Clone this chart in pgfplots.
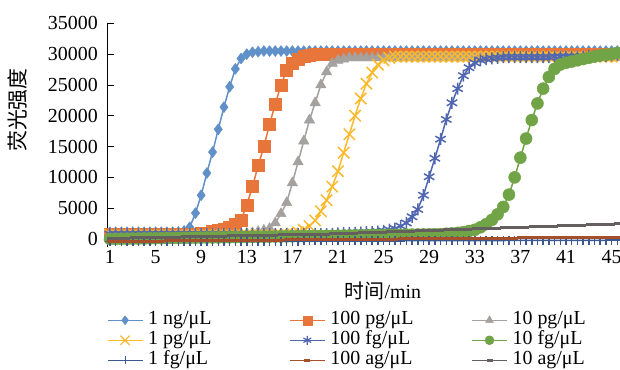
\documentclass[border=0pt]{standalone}
\usepackage{pgfplots}
\pgfplotsset{compat=1.18}
\usepackage{pgfplotstable}
\usepackage{fontspec}
\setmainfont{Liberation Serif}
\newfontfamily\cjk{Noto Sans CJK SC}
\definecolor{c1}{RGB}{96,144,200}
\definecolor{c2}{RGB}{232,117,58}
\definecolor{c3}{RGB}{165,161,159}
\definecolor{c4}{RGB}{250,185,45}
\definecolor{c5}{RGB}{80,102,176}
\definecolor{c6}{RGB}{112,164,70}
\definecolor{c7}{RGB}{60,90,144}
\definecolor{c8}{RGB}{165,80,42}
\definecolor{c9}{RGB}{101,95,95}
\pgfplotstableread{
x a b c d e f g h i
1    1100 700 700 700 800 0 -400 -400 100
1.5  1100 700 700 700 800 14 -398 -392 119
2    1100 700 700 700 800 27 -396 -384 137
2.5  1100 700 700 700 800 41 -393 -376 156
3    1100 700 700 700 800 54 -391 -369 174
3.5  1100 700 700 700 800 68 -389 -361 193
4    1100 700 700 700 800 81 -387 -353 211
4.5  1100 700 700 700 800 95 -384 -345 230
5    1100 700 700 700 800 108 -382 -337 248
5.5  1100 700 700 700 800 122 -380 -329 267
6    1100 700 700 700 800 135 -378 -322 285
6.5  1100 700 700 700 800 149 -375 -314 304
7    1150 700 700 700 800 162 -373 -306 322
7.5  1300 700 700 700 800 176 -371 -298 341
8    1900 700 700 700 800 189 -369 -290 359
8.5  4200 800 700 700 800 203 -366 -282 378
9    7100 900 700 700 800 216 -364 -274 396
9.5  10700 1000 700 700 800 230 -362 -267 415
10   14100 1200 700 700 800 243 -360 -259 433
10.5 17800 1400 700 700 800 257 -357 -251 452
11   21400 1600 700 700 800 270 -355 -243 470
11.5 24700 1900 700 700 800 284 -353 -235 489
12   27600 2400 700 700 800 297 -351 -227 507
12.5 29300 3100 800 700 800 311 -348 -220 526
13   30000 5500 900 700 800 324 -346 -212 544
13.5 30300 8500 1000 700 800 338 -344 -204 563
14   30400 11900 1200 700 800 351 -342 -196 581
14.5 30500 15000 1400 700 800 365 -339 -188 600
15   30500 18600 1700 700 800 378 -337 -180 618
15.5 30500 21900 2600 700 800 392 -335 -173 637
16   30500 25000 4100 700 800 405 -333 -165 655
16.5 30500 27400 5900 800 800 419 -330 -157 674
17   30500 28500 9100 900 800 432 -328 -149 692
17.5 30500 29200 12500 1100 800 446 -326 -141 711
18   30500 29600 15900 1500 800 459 -324 -133 729
18.5 30500 29800 19300 2100 800 473 -321 -126 748
19   30500 29900 22100 3000 800 486 -319 -118 766
19.5 30500 30000 25000 4500 800 500 -317 -110 785
20   30500 30000 27100 6300 800 513 -315 -102 803
20.5 30500 30000 28500 8500 850 527 -312 -94 835
21   30500 30000 29000 11000 900 540 -310 -86 867
21.5 30500 30000 29200 14000 950 554 -308 -79 900
22   30500 30000 29400 17000 1000 567 -306 -71 932
22.5 30500 30000 29400 20000 1000 581 -303 -63 964
23   30500 30000 29400 22800 1050 594 -301 -55 997
23.5 30500 30000 29400 25200 1100 608 -299 -47 1029
24   30500 30000 29400 27000 1100 621 -297 -39 1061
24.5 30500 30000 29400 28300 1200 635 -294 -32 1094
25   30500 30000 29400 29000 1300 648 -292 -24 1126
25.5 30500 30000 29400 29400 1500 662 -290 -16 1158
26   30500 30000 29400 29600 1700 675 -288 -8 1190
26.5 30500 30000 29400 29600 2100 689 -285 0 1223
27   30500 30000 29400 29600 2600 702 -283 8 1255
27.5 30500 30000 29400 29600 3600 716 -281 16 1287
28   30500 30000 29400 29600 4800 729 -279 24 1320
28.5 30500 30000 29400 29600 7100 743 -276 31 1352
29   30500 30000 29400 29600 10100 756 -274 39 1384
29.5 30500 30000 29400 29600 13100 770 -272 47 1417
30   30500 30000 29400 29600 16200 783 -270 55 1449
30.5 30500 30000 29400 29600 19400 850 -267 63 1481
31   30500 30000 29400 29600 22100 900 -265 71 1514
31.5 30500 30000 29400 29600 24400 1000 -263 79 1546
32   30500 30000 29400 29600 26500 1100 -261 86 1578
32.5 30500 30000 29400 29600 27800 1300 -258 94 1611
33   30500 30000 29400 29600 28600 1500 -256 102 1643
33.5 30500 30000 29400 29600 29000 1900 -254 110 1675
34   30500 30000 29400 29600 29200 2400 -252 118 1708
34.5 30500 30000 29400 29600 29300 3100 -249 126 1740
35   30500 30000 29400 29600 29400 4000 -247 133 1772
35.5 30500 30000 29400 29600 29500 5200 -245 141 1805
36   30500 30000 29400 29600 29500 7200 -243 149 1837
36.5 30500 30000 29400 29600 29500 10000 -240 157 1869
37   30500 30000 29400 29600 29500 13200 -238 165 1902
37.5 30500 30000 29400 29600 29500 16300 -236 173 1934
38   30500 30000 29400 29600 29500 19300 -234 180 1966
38.5 30500 30000 29400 29600 29500 22000 -231 188 1999
39   30500 30000 29400 29600 29500 24400 -229 196 2031
39.5 30500 30000 29400 29600 29500 26300 -227 204 2063
40   30500 30000 29400 29600 29600 27600 -225 212 2096
40.5 30500 30000 29400 29600 29600 28300 -222 220 2128
41   30500 30000 29400 29600 29600 28600 -220 228 2160
41.5 30500 30000 29400 29600 29600 28800 -218 235 2193
42   30500 30000 29400 29600 29600 29000 -216 243 2225
42.5 30500 30000 29400 29600 29600 29200 -213 251 2257
43   30500 30000 29400 29600 29700 29400 -211 259 2290
43.5 30500 30000 29400 29600 29700 29600 -209 267 2322
44   30500 30000 29400 29600 29700 29800 -207 275 2354
44.5 30500 30000 29400 29600 29700 29900 -204 282 2387
45   30500 30000 29400 29600 29800 30000 -202 290 2419
45.5 30500 30000 29400 29600 29900 30200 -200 298 2451
}\data
\begin{document}
\begin{tikzpicture}
\useasboundingbox (0bp,0bp) rectangle (620bp,-370bp);
\begin{axis}[
  at={(107bp,-247bp)}, anchor=south west,
  scale only axis, width=513bp, height=223.7bp,
  xmin=0.74, xmax=45.74, ymin=-1300, ymax=35000,
  axis lines*=left,
  x axis line style={draw=none},
  y axis line style={black, line width=0.8bp},
  xtick={1,5,...,45}, ytick={0,5000,...,35000},
  xtick style={draw=none},
  ytick style={black, line width=0.8bp},
  tick align=inside, major tick length=7bp,
  scaled y ticks=false,
  /pgf/number format/1000 sep={},
  /pgf/number format/assume math mode=true,
  ticklabel style={font=\fontsize{20}{20}\selectfont},
  yticklabel style={inner sep=0pt, xshift=-9bp},
  xticklabel style={inner sep=0pt, yshift=-3bp},
  every axis plot/.append style={line width=1.5bp, line join=round},
  legend columns=3,
  legend cell align=left,
  legend style={draw=none, fill=none, at={(0,-0.285)}, anchor=north west,
    inner sep=0pt, outer sep=0pt, font=\fontsize{20}{20}\selectfont,
    nodes={inner sep=0pt, text height=14bp, text depth=5bp},
    column sep=0pt, row sep=1bp},
  legend image code/.code={\draw[line width=1.2bp, mark repeat=2,mark phase=2] plot coordinates {(0bp,0bp) (17.5bp,0bp) (35bp,0bp)};},
]
\addplot[c1, mark=diamond*, mark size=5.5bp, mark options={fill=c1, line width=0.5bp}, legend image post style={mark size=4.5bp}] table[x=x,y=a]{\data};
\addlegendentry{\makebox[146bp][l]{\hspace{5bp}1 ng/μL}}
\addplot[c2, mark=square*, mark size=6bp, mark options={fill=c2, line width=0.5bp}, legend image post style={mark size=4.5bp}] table[x=x,y=b]{\data};
\addlegendentry{\makebox[146bp][l]{\hspace{5bp}100 pg/μL}}
\addplot[c3, mark=triangle*, mark size=6bp, mark options={fill=c3, line width=0.5bp}, legend image post style={mark size=4.5bp}] table[x=x,y=c]{\data};
\addlegendentry{\makebox[146bp][l]{\hspace{5bp}10 pg/μL}}
\addplot[c4, mark=x, mark size=8bp, legend image post style={mark size=6.5bp}] table[x=x,y=d]{\data};
\addlegendentry{\makebox[146bp][l]{\hspace{5bp}1 pg/μL}}
\addplot[c5, mark=asterisk, mark size=6bp, legend image post style={mark size=4.5bp}] table[x=x,y=e]{\data};
\addlegendentry{\makebox[146bp][l]{\hspace{5bp}100 fg/μL}}
\addplot[c6, mark=*, mark size=6bp, mark options={fill=c6, line width=0.5bp}, legend image post style={mark size=4.5bp}] table[x=x,y=f]{\data};
\addlegendentry{\makebox[146bp][l]{\hspace{5bp}10 fg/μL}}
\addplot[c7, mark=+, mark size=4.5bp, legend image post style={mark size=4bp}] table[x=x,y=g]{\data};
\addlegendentry{\makebox[146bp][l]{\hspace{5bp}1 fg/μL}}
\addplot[c8, mark=-, mark size=3bp, mark options={line width=3bp}] table[x=x,y=h]{\data};
\addlegendentry{\makebox[146bp][l]{\hspace{5bp}100 ag/μL}}
\addplot[c9, mark=-, mark size=3bp, mark options={line width=3bp}] table[x=x,y=i]{\data};
\addlegendentry{\makebox[146bp][l]{\hspace{5bp}10 ag/μL}}
\end{axis}
\node[rotate=90, font=\cjk\fontsize{21}{21}\selectfont] at (18bp,-110bp) {荧光强度};
\node[font=\fontsize{20}{20}\selectfont] at (383bp,-291bp) {{\cjk 时间}/min};
\end{tikzpicture}
\end{document}
